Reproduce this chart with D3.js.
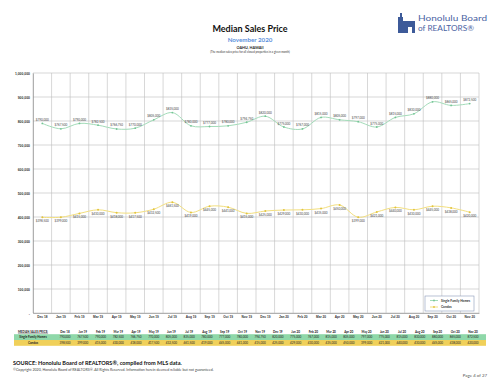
<!DOCTYPE html>
<html>
<head>
<meta charset="utf-8">
<script src="https://cdn.jsdelivr.net/npm/d3@7"></script>
<style>
  body { margin: 0; background: #fff; }
  svg { display: block; font-family: Lato, "Open Sans", sans-serif; }
</style>
</head>
<body>
<svg id="chart" width="500" height="386"></svg>
<script>
const months = ['Dec 18','Jan 19','Feb 19','Mar 19','Apr 19','May 19','Jun 19','Jul 19','Aug 19','Sep 19','Oct 19','Nov 19',
  'Dec 19','Jan 20','Feb 20','Mar 20','Apr 20','May 20','Jun 20','Jul 20','Aug 20','Sep 20','Oct 20','Nov 20']
const singleFamily = [790000, 767500, 790000, 782500, 766750, 770000, 805000, 835000, 780000, 777000, 780000, 794750,
  820000, 775000, 767000, 815000, 805000, 797000, 775000, 815000, 830000, 880000, 865000, 872500]
const condos = [398500, 399000, 415000, 430000, 418000, 417500, 432500, 461500, 419000, 445000, 441000, 415000,
  425000, 429000, 430000, 435000, 450000, 399000, 421000, 440000, 430000, 445000, 438000, 420000]
const yTicks = [0, 100000, 200000, 300000, 400000, 500000, 600000, 700000, 800000, 900000, 1000000]

const SF_COLOR = '#a3dcb9'
const SF_MARK = '#74c495'
const CONDO_COLOR = '#f3df7e'
const CONDO_MARK = '#e2c440'

const svg = d3.select('#chart')
const margin = {left: 33, right: 21, top: 73, bottom: 73}
const width = 500 - margin.left - margin.right
const height = 386 - margin.top - margin.bottom

// header
svg.append('text').attr('x', 250).attr('y', 32).attr('text-anchor', 'middle')
  .attr('font-size', 9).attr('font-weight', 'bold').attr('fill', '#111').text('Median Sales Price')
svg.append('text').attr('x', 250).attr('y', 42).attr('text-anchor', 'middle')
  .attr('font-size', 6.2).attr('font-weight', 'bold').attr('fill', '#5b8fdc').text('November 2020')
svg.append('text').attr('x', 250).attr('y', 48.5).attr('text-anchor', 'middle')
  .attr('font-size', 3.8).attr('font-weight', 'bold').attr('fill', '#222').text('OAHU, HAWAII')
svg.append('text').attr('x', 250).attr('y', 53).attr('text-anchor', 'middle')
  .attr('font-size', 2.8).attr('fill', '#333').text('(The median sales price for all closed properties in a given month)')

// logo
const logo = svg.append('g').attr('transform', 'translate(398,13)')
logo.append('rect').attr('x', 0).attr('y', 4).attr('width', 5).attr('height', 16).attr('fill', '#3d5a99')
logo.append('rect').attr('x', 5).attr('y', 8).attr('width', 12).attr('height', 12).attr('fill', '#3d5a99')
logo.append('rect').attr('x', 10).attr('y', 14).attr('width', 4).attr('height', 6).attr('fill', '#fff')
logo.append('rect').attr('x', 2).attr('y', 0).attr('width', 2).attr('height', 5).attr('fill', '#3d5a99')
svg.append('text').attr('x', 418).attr('y', 21).attr('font-size', 7.8).attr('fill', '#4a63a3')
  .attr('textLength', 69).attr('lengthAdjust', 'spacingAndGlyphs').text('Honolulu Board')
svg.append('text').attr('x', 418).attr('y', 30.5).attr('font-size', 7.8).attr('fill', '#4a63a3')
  .attr('textLength', 56).attr('lengthAdjust', 'spacingAndGlyphs').text('of REALTORS®')

// plot
const x = d3.scaleBand().domain(months).range([0, width])
const y = d3.scaleLinear().domain([0, 1000000]).range([height, 0])
const g = svg.append('g').attr('transform', `translate(${margin.left},${margin.top})`)

g.append('g').selectAll('line').data(yTicks).enter().append('line')
  .attr('x1', 0).attr('x2', width).attr('y1', d => y(d)).attr('y2', d => y(d))
  .attr('stroke', '#bdbdbd').attr('stroke-width', 0.6)
g.append('g').selectAll('line').data(months.concat(['end'])).enter().append('line')
  .attr('x1', (d, i) => i * x.step()).attr('x2', (d, i) => i * x.step())
  .attr('y1', 0).attr('y2', height)
  .attr('stroke', '#bdbdbd').attr('stroke-width', 0.6)

const yAxis = g.append('g')
  .call(d3.axisLeft(y).tickValues(yTicks).tickSize(0).tickPadding(3)
    .tickFormat(d => d === 0 ? '-' : d3.format(',')(d)))
yAxis.select('.domain').attr('stroke', '#888').attr('stroke-width', 0.6)
yAxis.selectAll('text').attr('font-size', 3.4).attr('font-weight', 'bold').attr('fill', '#333')

const xAxis = g.append('g').attr('transform', `translate(0,${height})`)
  .call(d3.axisBottom(x).tickSize(0).tickPadding(3))
xAxis.select('.domain').attr('stroke', '#888').attr('stroke-width', 0.6)
xAxis.selectAll('text').attr('font-size', 3.2).attr('font-weight', 'bold').attr('fill', '#333')

const cx = (d, i) => x(months[i]) + x.bandwidth() / 2
const line = d3.line().x(cx).y(d => y(d)).curve(d3.curveCatmullRom.alpha(0.5))

g.append('path').datum(singleFamily).attr('fill', 'none').attr('stroke', SF_COLOR).attr('stroke-width', 1).attr('d', line)
g.append('path').datum(condos).attr('fill', 'none').attr('stroke', CONDO_COLOR).attr('stroke-width', 1).attr('d', line)

g.append('g').selectAll('circle').data(singleFamily).enter().append('circle')
  .attr('cx', cx).attr('cy', d => y(d)).attr('r', 0.9).attr('fill', SF_MARK)
g.append('g').selectAll('circle').data(condos).enter().append('circle')
  .attr('cx', cx).attr('cy', d => y(d)).attr('r', 1).attr('fill', CONDO_MARK)

const fmt = d => '$' + d3.format(',')(d)
g.append('g').selectAll('text').data(singleFamily).enter().append('text')
  .attr('x', cx).attr('y', d => y(d) - 2.5).attr('text-anchor', 'middle')
  .attr('font-size', 3).attr('fill', '#444').text(fmt)
g.append('g').selectAll('text').data(condos).enter().append('text')
  .attr('x', cx).attr('y', d => y(d) + 5).attr('text-anchor', 'middle')
  .attr('font-size', 3).attr('fill', '#444').text(fmt)

// legend
const lg = svg.append('g').attr('transform', 'translate(425,296)')
lg.append('rect').attr('width', 49).attr('height', 15).attr('fill', '#fff').attr('stroke', '#8a99b8').attr('stroke-width', 0.6)
const legendItems = [['Single Family Homes', SF_COLOR, SF_MARK], ['Condos', CONDO_COLOR, CONDO_MARK]]
legendItems.forEach((it, i) => {
  const yy = 4.5 + i * 6.5
  lg.append('line').attr('x1', 5).attr('x2', 13).attr('y1', yy).attr('y2', yy).attr('stroke', it[1]).attr('stroke-width', 1)
  lg.append('circle').attr('cx', 9).attr('cy', yy).attr('r', 0.9).attr('fill', it[2])
  lg.append('text').attr('x', 16).attr('y', yy + 1.1).attr('font-size', 3.2).attr('font-weight', 'bold').attr('fill', '#333').text(it[0])
})

// table
const colX = d3.scalePoint().domain(months).range([65, 473])
const tbl = svg.append('g')
tbl.append('text').attr('x', 33).attr('y', 332.5).attr('text-anchor', 'middle').attr('font-size', 2.9)
  .attr('font-weight', 'bold').attr('text-decoration', 'underline').attr('fill', '#222').text('MEDIAN SALES PRICE:')
tbl.selectAll('.hdr').data(months).enter().append('text')
  .attr('x', d => colX(d)).attr('y', 332.5).attr('text-anchor', 'middle')
  .attr('font-size', 3).attr('font-weight', 'bold').attr('fill', '#222').text(d => d)
tbl.append('rect').attr('x', 14).attr('y', 334.2).attr('width', 472).attr('height', 5.8).attr('fill', '#8fd8a9')
tbl.append('rect').attr('x', 14).attr('y', 340).attr('width', 472).attr('height', 5.8).attr('fill', '#f0d05a')
tbl.append('text').attr('x', 33).attr('y', 338.2).attr('text-anchor', 'middle').attr('font-size', 3)
  .attr('font-weight', 'bold').attr('fill', '#222').text('Single Family Homes')
tbl.append('text').attr('x', 33).attr('y', 344).attr('text-anchor', 'middle').attr('font-size', 3)
  .attr('font-weight', 'bold').attr('fill', '#222').text('Condos')
tbl.selectAll('.sf').data(singleFamily).enter().append('text')
  .attr('x', (d, i) => colX(months[i])).attr('y', 338.2).attr('text-anchor', 'middle')
  .attr('font-size', 3).attr('fill', '#222').text(d => d3.format(',')(d))
tbl.selectAll('.co').data(condos).enter().append('text')
  .attr('x', (d, i) => colX(months[i])).attr('y', 344).attr('text-anchor', 'middle')
  .attr('font-size', 3).attr('fill', '#222').text(d => d3.format(',')(d))

// footer
svg.append('text').attr('x', 13).attr('y', 365).attr('font-size', 5.6).attr('font-weight', 'bold').attr('fill', '#111')
  .text('SOURCE: Honolulu Board of REALTORS®, compiled from MLS data.')
svg.append('text').attr('x', 13).attr('y', 370.5).attr('font-size', 3.6).attr('fill', '#444')
  .text('©Copyright 2020, Honolulu Board of REALTORS®. All Rights Reserved. Information herein deemed reliable but not guaranteed.')
svg.append('text').attr('x', 487).attr('y', 377).attr('text-anchor', 'end').attr('font-size', 4.4).attr('fill', '#555')
  .text('Page 4 of 27')
</script>
</body>
</html>
